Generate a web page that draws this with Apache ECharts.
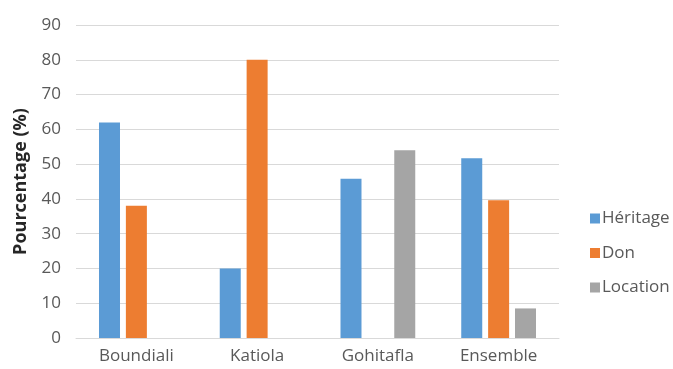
<!DOCTYPE html>
<html><head><meta charset="utf-8">
<script src="https://cdn.jsdelivr.net/npm/echarts@6/dist/echarts.min.js"></script>
<style>html,body{margin:0;padding:0;background:#fff}#c{width:673px;height:369px}</style>
</head><body><div id="c"></div>
<script>
const categories = ["Boundiali", "Katiola", "Gohitafla", "Ensemble"];
const heritage = [62, 20, 45.8, 51.7];
const don = [38, 80, null, 39.6];
const location_ = [null, null, 54, 8.5];
const yTicks = [0, 10, 20, 30, 40, 50, 60, 70, 80, 90];
const seriesNames = ["Héritage", "Don", "Location"];
const colors = ["#5B9BD5", "#ED7D31", "#A5A5A5"];
const font = "'Open Sans', sans-serif";
const chart = echarts.init(document.getElementById('c'));
const mk = (name, data, color) => ({
  name, type: 'bar', data, barWidth: 21, barGap: '28%',
  itemStyle: { color }
});
chart.setOption({
  animation: false,
  grid: { left: 76, right: 114, top: 25, bottom: 31, containLabel: false },
  legend: {
    orient: 'vertical', left: 585, top: 205, itemWidth: 10, itemHeight: 10, itemGap: 17.5,
    icon: 'rect', data: seriesNames,
    textStyle: { fontFamily: font, fontSize: 17, color: '#595959', padding: [0, 0, 0, -3] }
  },
  xAxis: {
    type: 'category', data: categories,
    axisLine: { lineStyle: { color: '#d9d9d9', width: 1 } },
    axisTick: { show: false },
    axisLabel: { fontFamily: font, fontSize: 17, color: '#595959', margin: 10 }
  },
  yAxis: {
    type: 'value', min: yTicks[0], max: yTicks[yTicks.length - 1], interval: 10,
    name: 'Pourcentage (%)', nameLocation: 'middle', nameGap: 46,
    nameTextStyle: { fontFamily: font, fontSize: 18, fontWeight: 'bold', color: '#262626' },
    axisLine: { show: false }, axisTick: { show: false },
    axisLabel: { fontFamily: font, fontSize: 17, color: '#595959', margin: 15 },
    splitLine: { lineStyle: { color: '#d9d9d9', width: 1 } }
  },
  series: [mk(seriesNames[0], heritage, colors[0]), mk(seriesNames[1], don, colors[1]), mk(seriesNames[2], location_, colors[2])]
});
</script></body></html>
